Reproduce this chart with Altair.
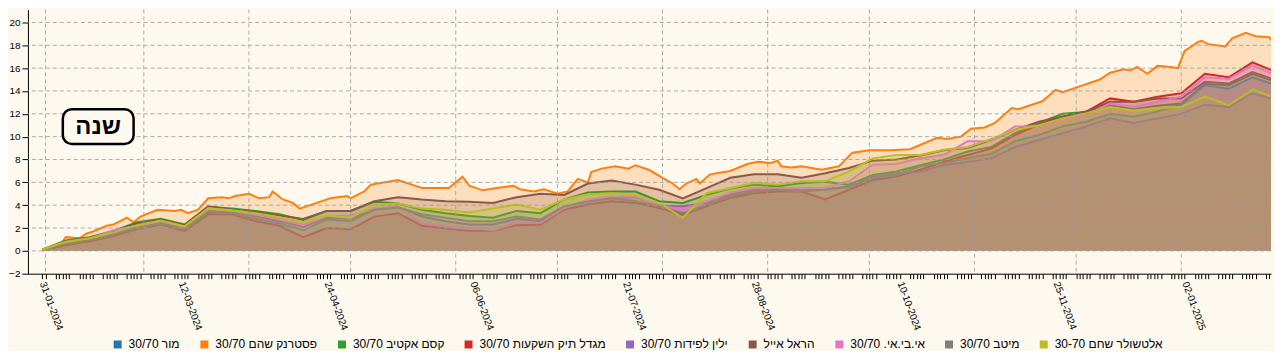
import altair as alt
import pandas as pd

BG = "#fdf9ef"
FONT = "Liberation Sans"

# legend entries (visual order text), colours
funds = ["30/70 מור", "30/70 פסטרנק שהם", "30/70 קסם אקטיב", "30/70 מגדל תיק השקעות",
         "30/70 ילין לפידות", "הראל אייל", "30/70 .אי.בי.אי", "30/70 מיטב", "30-70 אלטשולר שחם"]
colors = ["#1f77b4", "#ff7f0e", "#2ca02c", "#d62728", "#9467bd", "#8c564b", "#e377c2", "#7f7f7f", "#bcbd22"]

# top series (פסטרנק שהם), read at finer resolution
orange_dates = [
    "2024-01-31", "2024-02-05", "2024-02-07", "2024-02-11", "2024-02-13", "2024-02-15", "2024-02-19", "2024-02-21", "2024-02-25", "2024-02-27",
    "2024-02-29", "2024-03-05", "2024-03-10", "2024-03-12", "2024-03-14", "2024-03-17", "2024-03-20", "2024-03-24", "2024-03-26", "2024-03-28",
    "2024-04-01", "2024-04-04", "2024-04-07", "2024-04-08", "2024-04-11", "2024-04-14", "2024-04-16", "2024-04-21", "2024-04-25", "2024-04-30",
    "2024-05-01", "2024-05-05", "2024-05-07", "2024-05-09", "2024-05-15", "2024-05-19", "2024-05-22", "2024-05-26", "2024-05-30", "2024-06-03",
    "2024-06-05", "2024-06-09", "2024-06-13", "2024-06-18", "2024-06-20", "2024-06-24", "2024-06-27", "2024-07-01", "2024-07-04", "2024-07-07",
    "2024-07-10", "2024-07-11", "2024-07-14", "2024-07-18", "2024-07-22", "2024-07-24", "2024-07-28", "2024-08-01", "2024-08-04", "2024-08-06",
    "2024-08-08", "2024-08-11", "2024-08-12", "2024-08-15", "2024-08-21", "2024-08-26", "2024-08-29", "2024-09-02", "2024-09-04", "2024-09-05",
    "2024-09-08", "2024-09-11", "2024-09-17", "2024-09-22", "2024-09-26", "2024-10-01", "2024-10-07", "2024-10-13", "2024-10-21", "2024-10-24",
    "2024-10-28", "2024-10-31", "2024-11-04", "2024-11-07", "2024-11-12", "2024-11-14", "2024-11-21", "2024-11-25", "2024-11-27", "2024-12-02",
    "2024-12-08", "2024-12-11", "2024-12-15", "2024-12-17", "2024-12-19", "2024-12-22", "2024-12-25", "2024-12-29", "2024-12-31", "2025-01-02",
    "2025-01-06", "2025-01-07", "2025-01-09", "2025-01-14", "2025-01-16", "2025-01-20", "2025-01-23", "2025-01-27", "2025-01-29", "2025-01-31",
]
orange_values = [
    0.1, 0.4, 1.2, 1.1, 1.5, 1.7, 2.2, 2.3, 2.9, 2.5,
    3.0, 3.6, 3.5, 3.6, 3.3, 3.6, 4.6, 4.7, 4.6, 4.8,
    5.0, 4.6, 4.7, 5.2, 4.5, 4.2, 3.7, 4.2, 4.6, 4.8,
    4.6, 5.2, 5.8, 5.9, 6.2, 5.8, 5.5, 5.5, 5.5, 6.5,
    5.7, 5.3, 5.5, 5.7, 5.4, 5.2, 5.4, 5.0, 5.2, 6.3,
    6.0, 6.9, 7.2, 7.4, 7.2, 7.5, 7.1, 6.4, 5.9, 5.4,
    5.9, 6.3, 5.9, 6.7, 7.0, 7.6, 7.8, 7.7, 7.9, 7.4,
    7.3, 7.4, 7.1, 7.4, 8.6, 8.8, 8.8, 8.9, 9.9, 9.8,
    10.0, 10.7, 10.8, 11.2, 12.5, 12.4, 13.1, 14.1, 13.9, 14.4,
    15.0, 15.6, 15.9, 15.8, 16.1, 15.5, 16.2, 16.1, 16.0, 17.5,
    18.3, 18.4, 18.1, 17.9, 18.6, 19.1, 18.8, 18.7, 17.9, 18.3,
]

# other series, read weekly
weekly_dates = [
    "2024-01-31", "2024-02-07", "2024-02-14", "2024-02-21", "2024-02-28", "2024-03-06", "2024-03-13", "2024-03-20", "2024-03-27", "2024-04-03",
    "2024-04-10", "2024-04-17", "2024-04-24", "2024-05-01", "2024-05-08", "2024-05-15", "2024-05-22", "2024-05-29", "2024-06-05", "2024-06-12",
    "2024-06-19", "2024-06-26", "2024-07-03", "2024-07-10", "2024-07-17", "2024-07-24", "2024-07-31", "2024-08-07", "2024-08-14", "2024-08-21",
    "2024-08-28", "2024-09-04", "2024-09-11", "2024-09-18", "2024-09-25", "2024-10-02", "2024-10-09", "2024-10-16", "2024-10-23", "2024-10-30",
    "2024-11-06", "2024-11-13", "2024-11-20", "2024-11-27", "2024-12-04", "2024-12-11", "2024-12-18", "2024-12-25", "2025-01-01", "2025-01-08",
    "2025-01-15", "2025-01-22", "2025-01-29", "2025-01-31",
]
kesem = [
    0.1, 0.9, 1.2, 1.75, 2.5, 2.8, 2.3, 3.85, 3.7, 3.5,
    3.2, 2.7, 3.5, 3.5, 4.3, 4.15, 3.6, 3.3, 3.05, 2.9,
    3.5, 3.3, 4.5, 5.1, 5.2, 5.2, 4.35, 4.2, 4.9, 5.45,
    5.8, 5.65, 5.95, 6.05, 5.8, 6.65, 6.95, 7.5, 8.0, 8.7,
    9.1, 10.3, 11.2, 12.0, 12.15, 12.75, 12.4, 12.7, 12.9, 14.6,
    14.5, 15.5, 14.8, 15.2,
]
migdal = [
    0.05, 0.5, 0.85, 1.3, 1.9, 2.3, 1.75, 3.2, 3.2, 2.6,
    2.2, 1.2, 2.0, 1.9, 3.0, 3.3, 2.2, 1.95, 1.75, 1.75,
    2.25, 2.3, 3.6, 4.05, 4.35, 4.2, 3.75, 3.15, 3.9, 4.65,
    5.05, 5.2, 5.2, 4.5, 5.35, 6.2, 6.5, 7.1, 7.8, 8.4,
    8.95, 10.15, 11.05, 11.75, 12.2, 13.35, 13.05, 13.5, 13.8, 15.5,
    15.2, 16.5, 15.65, 16.1,
]
yelin = [
    0.08, 0.7, 1.0, 1.5, 2.1, 2.5, 2.0, 3.5, 3.4, 3.0,
    2.6, 2.1, 2.9, 2.8, 3.7, 3.85, 3.0, 2.6, 2.3, 2.3,
    2.8, 2.6, 3.8, 4.4, 4.6, 4.7, 3.95, 3.9, 4.2, 4.95,
    5.35, 5.4, 5.3, 5.4, 5.6, 6.5, 6.8, 6.95, 7.5, 7.8,
    8.1, 9.1, 9.7, 10.3, 10.9, 11.6, 11.2, 11.6, 12.0, 12.8,
    12.6, 13.8, 13.2, 13.4,
]
harel = [
    0.1, 0.85, 1.15, 1.7, 2.4, 2.75, 2.25, 3.9, 3.6, 3.4,
    3.1, 2.8, 3.5, 3.5, 4.35, 4.7, 4.5, 4.35, 4.3, 4.2,
    4.7, 5.0, 4.9, 5.9, 6.15, 5.8, 5.35, 4.6, 5.5, 6.4,
    6.7, 6.7, 6.4, 6.8, 7.25, 7.9, 8.0, 8.35, 8.8, 9.0,
    9.7, 10.6, 11.3, 11.75, 12.2, 13.05, 13.05, 13.35, 13.35, 14.8,
    14.65, 15.65, 14.95, 15.3,
]
ibi = [
    0.0, 0.75, 1.05, 1.8, 2.2, 2.6, 2.1, 3.75, 3.5, 3.2,
    2.8, 2.3, 3.05, 3.1, 3.75, 3.9, 2.4, 2.2, 2.0, 1.8,
    2.5, 2.45, 3.75, 4.5, 4.75, 4.75, 4.0, 3.6, 4.35, 5.1,
    5.5, 5.5, 5.5, 5.5, 6.1, 7.55, 7.6, 8.1, 8.4, 9.6,
    9.6, 10.9, 10.9, 11.5, 11.9, 12.9, 12.6, 13.05, 13.5, 15.2,
    15.05, 16.25, 15.35, 15.8,
]
meitav = [
    0.1, 0.6, 0.95, 1.4, 2.0, 2.4, 1.9, 3.35, 3.3, 2.8,
    2.4, 1.8, 2.75, 2.6, 3.6, 3.8, 3.2, 2.9, 2.6, 2.6,
    3.0, 2.75, 3.9, 4.3, 4.6, 4.35, 3.9, 3.3, 4.05, 4.8,
    5.2, 5.35, 5.2, 5.35, 5.65, 6.35, 6.65, 7.4, 7.7, 8.1,
    8.5, 9.6, 10.15, 10.9, 11.3, 12.0, 11.75, 12.2, 12.8, 14.5,
    14.2, 15.2, 14.5, 14.9,
]
altshuler = [
    0.12, 0.8, 1.1, 1.6, 2.25, 2.65, 2.15, 3.7, 3.55, 3.3,
    2.95, 2.5, 3.1, 2.9, 4.05, 4.15, 3.7, 3.6, 3.35, 3.7,
    4.05, 3.6, 4.5, 4.95, 5.05, 4.9, 4.2, 2.9, 5.05, 5.5,
    5.95, 5.8, 6.1, 6.1, 6.95, 8.1, 8.4, 8.4, 8.85, 9.1,
    9.8, 10.6, 11.0, 11.6, 12.05, 12.6, 12.3, 12.5, 12.6, 13.5,
    12.75, 14.15, 13.35, 13.5,
]

label_dates = ["31-01-2024", "12-03-2024", "24-04-2024", "06-06-2024", "21-07-2024",
               "28-08-2024", "10-10-2024", "25-11-2024", "02-01-2025"]
month_starts = ["2024-02-01", "2024-03-01", "2024-04-01", "2024-05-01", "2024-06-01", "2024-07-01",
                "2024-08-01", "2024-09-01", "2024-10-01", "2024-11-01", "2024-12-01", "2025-01-01"]
y_ticks = [-2, 0, 2, 4, 6, 8, 10, 12, 14, 16, 18, 20]
grid_y = [0, 2, 4, 6, 8, 10, 12, 14, 16, 18, 20]

# ---- tables ----
series = {
    funds[1]: (orange_dates, orange_values),
    funds[2]: (weekly_dates, kesem),
    funds[3]: (weekly_dates, migdal),
    funds[4]: (weekly_dates, yelin),
    funds[5]: (weekly_dates, harel),
    funds[6]: (weekly_dates, ibi),
    funds[7]: (weekly_dates, meitav),
    funds[8]: (weekly_dates, altshuler),
}

# one tick per trading day (Sun-Thu) inside the visible range
trading_days = pd.bdate_range("2024-01-31", "2025-01-27", freq="C", weekmask="Sun Mon Tue Wed Thu")
tick_values = [alt.DateTime(year=d.year, month=d.month, date=d.day) for d in trading_days]

label_list = ",".join("'%s'" % s for s in label_dates)
label_expr = ("indexof([%s], timeFormat(datum.value, '%%d-%%m-%%Y')) >= 0 ? "
              "timeFormat(datum.value, '%%d-%%m-%%Y') : ''") % label_list

xscale = alt.Scale(domain=[alt.DateTime(year=2024, month=1, date=26, hours=19, minutes=40),
                           alt.DateTime(year=2025, month=1, date=27, hours=11, minutes=30)])
yscale = alt.Scale(domain=[-2, 21.13], nice=False, zero=False)
cscale = alt.Scale(domain=funds, range=colors)

xaxis = alt.Axis(values=tick_values, labelExpr=label_expr, labelAngle=70, labelAlign="left",
                 labelBaseline="middle", labelFont=FONT, labelFontSize=10, labelColor="black",
                 labelPadding=3, labelOverlap=False, labelFlush=False, labelBound=False,
                 tickColor="black", tickSize=5, domainColor="black", grid=False, title=None)
yaxis = alt.Axis(values=y_ticks, labelFont=FONT, labelFontSize=10, labelColor="black",
                 labelPadding=2, tickColor="black", tickSize=6, domainColor="black",
                 grid=False, title=None)
legend = alt.Legend(orient="none", legendX=84, legendY=330, direction="horizontal",
                    symbolType="square", symbolSize=64, symbolStrokeWidth=0, symbolOpacity=1,
                    labelFont=FONT, labelFontSize=12, labelColor="black", labelOffset=5,
                    columnPadding=18, padding=0, title=None)

layers = []
for f, (ds, vs) in series.items():
    d = pd.DataFrame({"date": pd.to_datetime(ds), "value": vs, "fund": f})
    enc = dict(
        x=alt.X("date:T", scale=xscale, axis=xaxis),
        y=alt.Y("value:Q", scale=yscale, axis=yaxis, stack=None),
        color=alt.Color("fund:N", scale=cscale, legend=legend),
    )
    layers.append(alt.Chart(d).mark_area(fillOpacity=0.22, clip=True).encode(**enc))
    layers.append(alt.Chart(d).mark_line(strokeWidth=2, clip=True).encode(**enc))

hgrid = alt.Chart(pd.DataFrame({"v": grid_y})).mark_rule(
    color="#999999", strokeDash=[4, 3], strokeWidth=1, opacity=0.8
).encode(y=alt.Y("v:Q", scale=yscale, axis=yaxis))

vgrid = alt.Chart(pd.DataFrame({"d": pd.to_datetime(month_starts)})).mark_rule(
    color="#999999", strokeDash=[4, 3], strokeWidth=1, opacity=0.8
).encode(x=alt.X("d:T", scale=xscale, axis=xaxis))

btn = pd.DataFrame({"t": ["שנה"]})
btn_box = alt.Chart(btn).mark_rect(cornerRadius=9, fill=BG, stroke="black", strokeWidth=2.5).encode(
    x=alt.value(35), x2=alt.value(106), y=alt.value(100), y2=alt.value(135))
btn_text = alt.Chart(btn).mark_text(font=FONT, fontSize=24, fontWeight="bold", color="black",
                                    align="center", baseline="middle").encode(
    x=alt.value(70.5), y=alt.value(118), text="t:N")

chart = alt.layer(*layers, hgrid, vgrid, btn_box, btn_text).properties(
    width=1247, height=265, padding={"left": 0, "top": 0, "right": 0, "bottom": 0}
).configure(background=BG).configure_view(stroke=None)

chart.save("out.html", embed_options={"renderer": "svg", "actions": False})
